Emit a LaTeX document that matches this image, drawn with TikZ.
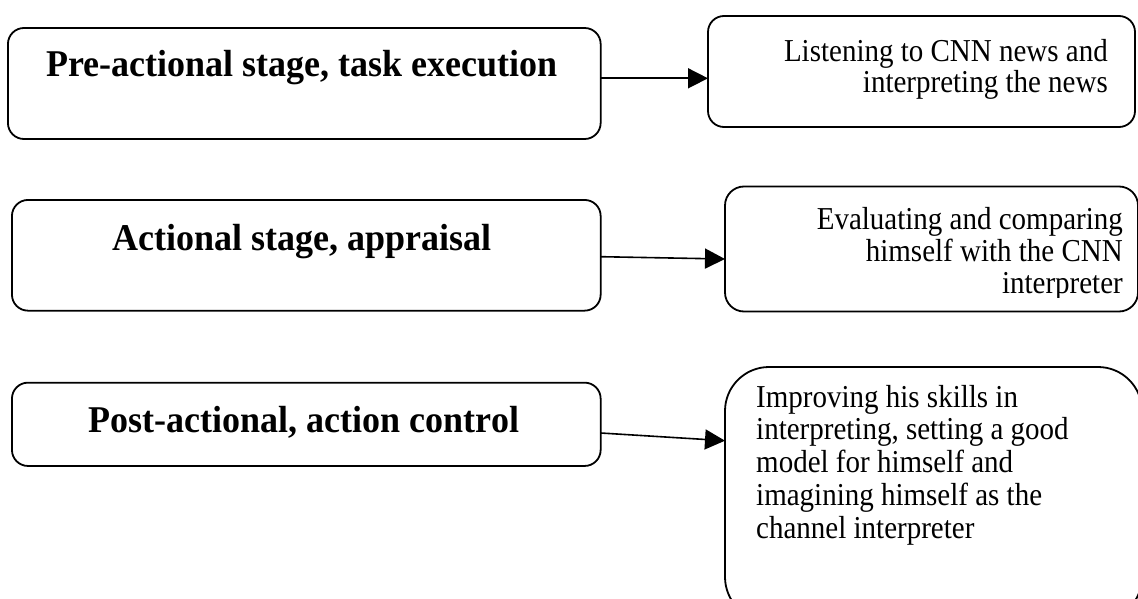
\documentclass[tikz,border=0pt]{standalone}
\usepackage{graphicx}
\usepackage{fontspec}
\setmainfont{Liberation Serif}
\usetikzlibrary{arrows.meta}
\newcommand{\vstr}[1]{\scalebox{1}[1.1]{#1}}
\newcommand{\tstr}[1]{\scalebox{1}[1.05]{#1}}
\tikzset{
  box/.style={draw, line width=1.8pt, rounded corners=16pt, inner sep=0pt, outer sep=0pt},
  title/.style={font={\fontsize{36}{40}\selectfont\bfseries}, inner sep=0pt, anchor=base},
  body/.style={font={\fontsize{29}{32}\selectfont}, inner sep=0pt},
  arr/.style={line width=1.6pt, -{Triangle[length=20pt,width=20pt]}}
}
\begin{document}
\begin{tikzpicture}[x=1pt,y=-1pt]
\useasboundingbox (0,0) rectangle (1138,599);
\clip (0,0) rectangle (1138,599);
% left boxes
\node[box, minimum width=592.7pt, minimum height=111pt] (L1) at (304.3,83.5) {};
\node[box, minimum width=588.7pt, minimum height=110.7pt] (L2) at (306.3,255.3) {};
\node[box, minimum width=588.7pt, minimum height=83.3pt] (L3) at (306.3,424.3) {};
% right boxes
\node[box, minimum width=427pt, minimum height=111pt] (R1) at (921.5,71.5) {};
\node[box, rounded corners=19pt, minimum width=413pt, minimum height=125pt] (R2) at (931.5,249) {};
\node[box, rounded corners=44pt, minimum width=417pt, minimum height=254pt] (R3) at (933.5,494) {};
% titles
\node[title] (T1) at (302,76.7) {\tstr{Pre-actional stage, task execution}};
\node[title] (T2) at (302,250) {\tstr{Actional stage, appraisal}};
\node[title] (T3) at (304,432) {\tstr{Post-actional, action control}};
% right texts (base anchor = baseline of last line)
\node[body, font={\fontsize{29}{31}\selectfont}, align=right, anchor=base east] (B1) at (1108,92.7) {\vstr{Listening to CNN news and}\\\vstr{interpreting the news}};
\begin{scope}
\clip (700,150) rectangle (1138,297);
\node[body, align=right, anchor=base east] (B2) at (1123,293.3) {\vstr{Evaluating and comparing}\\\vstr{himself with the CNN}\\\vstr{interpreter}};
\end{scope}
\node[body, font={\fontsize{29}{32.7}\selectfont}, align=left, anchor=base west] (B3) at (756,538) {\vstr{Improving his skills in}\\\vstr{interpreting, setting a good}\\\vstr{model for himself and}\\\vstr{imagining himself as the}\\\vstr{channel interpreter}};
% arrows
\draw[arr] ([yshift=5.2pt]L1.east) -- ([yshift=-6.8pt]R1.west);
\draw[arr] ([yshift=-1.4pt]L2.east) -- ([yshift=-10pt]R2.west);
\draw[arr] ([yshift=-8.7pt]L3.east) -- ([yshift=53.3pt]R3.west);
\end{tikzpicture}
\end{document}
